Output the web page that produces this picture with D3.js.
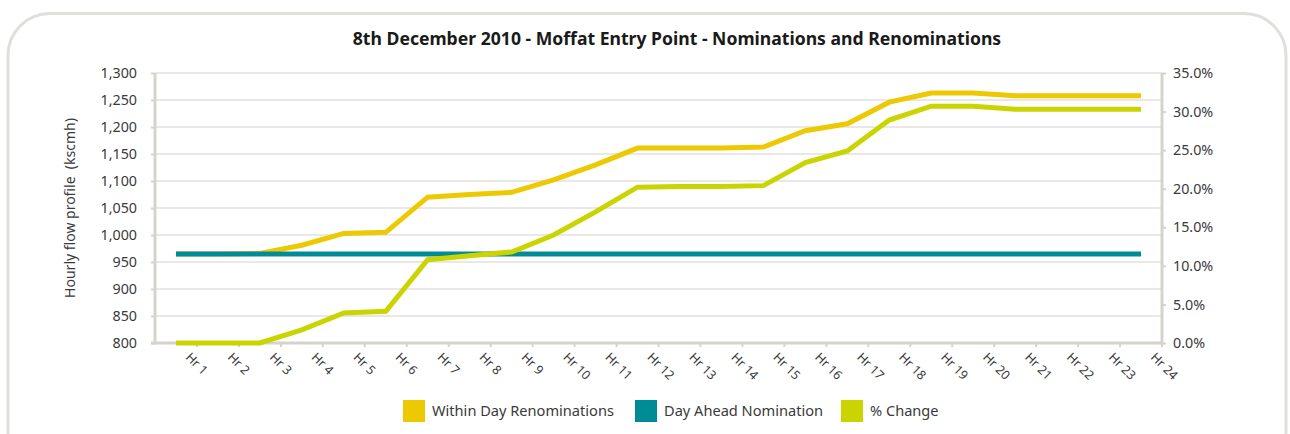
<!DOCTYPE html>
<html>
<head>
<meta charset="utf-8">
<script src="https://cdn.jsdelivr.net/npm/d3@7"></script>
<style>
    body { margin: 0; background: #fff; }
    svg text { font-family: 'Noto Sans', sans-serif; }
</style>
</head>
<body>
<div id="chart-container"></div>
<script>
// chart data
const hours = ['Hr 1', 'Hr 2', 'Hr 3', 'Hr 4', 'Hr 5', 'Hr 6', 'Hr 7', 'Hr 8', 'Hr 9', 'Hr 10', 'Hr 11', 'Hr 12',
    'Hr 13', 'Hr 14', 'Hr 15', 'Hr 16', 'Hr 17', 'Hr 18', 'Hr 19', 'Hr 20', 'Hr 21', 'Hr 22', 'Hr 23', 'Hr 24'];
const withinDay = [965, 965, 966, 981, 1003, 1005, 1070, 1075, 1079, 1102, 1130, 1161,
    1161, 1161, 1163, 1193, 1206, 1246, 1263, 1263, 1258, 1258, 1258, 1258];
const dayAhead = [965, 965, 965, 965, 965, 965, 965, 965, 965, 965, 965, 965,
    965, 965, 965, 965, 965, 965, 965, 965, 965, 965, 965, 965];
const pctChange = [0, 0, 0, 1.7, 3.9, 4.1, 10.8, 11.3, 11.8, 14.0, 17.0, 20.2,
    20.3, 20.3, 20.4, 23.4, 24.9, 28.9, 30.7, 30.7, 30.3, 30.3, 30.3, 30.3];
const leftTicks = [800, 850, 900, 950, 1000, 1050, 1100, 1150, 1200, 1250, 1300];
const rightTicks = [0, 5, 10, 15, 20, 25, 30, 35];
const seriesNames = ['Within Day Renominations', 'Day Ahead Nomination', '% Change'];

const colors = {
    within: '#ecc900',
    dayAhead: '#008c96',
    pct: '#cad400'
};
const axisColor = '#d6d3cc';
const gridColor = '#e3e1dc';
const textColor = '#3a3a3a';

let width = 1290, height = 434;
let margin = { left: 155, right: 1162, top: 73, bottom: 343 };

let svg = d3.select('#chart-container')
    .append('svg')
    .attr('width', width)
    .attr('height', height);

// rounded frame round the whole chart
svg.append('rect')
    .attr('x', 8)
    .attr('y', 13.5)
    .attr('width', 1278)
    .attr('height', 460)
    .attr('rx', 42)
    .attr('fill', 'none')
    .attr('stroke', '#e0dfdb')
    .attr('stroke-width', 3);

svg.append('text')
    .attr('x', 677)
    .attr('y', 45)
    .attr('text-anchor', 'middle')
    .attr('font-size', 17.6)
    .attr('font-weight', 'bold')
    .attr('fill', '#1a1a1a')
    .text('8th December 2010 - Moffat Entry Point - Nominations and Renominations');

let x = d3.scaleBand()
    .domain(hours)
    .range([margin.left, margin.right]);

let yLeft = d3.scaleLinear()
    .domain([800, 1300])
    .range([margin.bottom, margin.top]);

let yRight = d3.scaleLinear()
    .domain([0, 35])
    .range([margin.bottom, margin.top]);

// gridlines
svg.append('g')
    .selectAll('line')
    .data(leftTicks.slice(1))
    .enter()
    .append('line')
    .attr('x1', margin.left)
    .attr('x2', margin.right)
    .attr('y1', d => yLeft(d))
    .attr('y2', d => yLeft(d))
    .attr('stroke', gridColor)
    .attr('stroke-width', 1.5);

// left axis
let leftAxis = svg.append('g')
    .attr('transform', `translate(${margin.left},0)`)
    .call(d3.axisLeft(yLeft).tickValues(leftTicks).tickFormat(d3.format(',')).tickSize(4).tickPadding(14));

// right axis
let rightAxis = svg.append('g')
    .attr('transform', `translate(${margin.right},0)`)
    .call(d3.axisRight(yRight).tickValues(rightTicks).tickFormat(d => d.toFixed(1) + '%').tickSize(4).tickPadding(7));

// bottom axis, ticks at band boundaries
let bottomAxis = svg.append('g')
    .attr('transform', `translate(0,${margin.bottom})`);
bottomAxis.append('line')
    .attr('x1', margin.left - 4)
    .attr('x2', margin.right)
    .attr('stroke', axisColor)
    .attr('stroke-width', 3);
bottomAxis.selectAll('.tk')
    .data(hours)
    .enter()
    .append('line')
    .attr('class', 'tk')
    .attr('x1', d => x(d) + x.bandwidth())
    .attr('x2', d => x(d) + x.bandwidth())
    .attr('y1', 0)
    .attr('y2', 4)
    .attr('stroke', axisColor)
    .attr('stroke-width', 2);
bottomAxis.selectAll('text')
    .data(hours)
    .enter()
    .append('text')
    .attr('transform', d => `translate(${x(d) + x.bandwidth() / 2 + 9},15) rotate(45)`)
    .attr('font-size', 12.5)
    .attr('fill', textColor)
    .text(d => d);

[leftAxis, rightAxis].forEach(g => {
    g.select('.domain').attr('stroke', axisColor).attr('stroke-width', 3);
    g.selectAll('.tick line').attr('stroke', axisColor).attr('stroke-width', 2);
    g.selectAll('.tick text')
        .attr('font-family', "'Noto Sans', sans-serif")
        .attr('font-size', 14.3)
        .attr('fill', textColor);
});
leftAxis.select('.domain').attr('d', `M0,${margin.top}V${margin.bottom + 1.5}`);
rightAxis.select('.domain').attr('d', `M0,${margin.top}V${margin.bottom + 1.5}`);

svg.append('text')
    .attr('transform', `translate(75,${(margin.top + margin.bottom) / 2}) rotate(-90)`)
    .attr('text-anchor', 'middle')
    .attr('font-size', 14)
    .attr('fill', textColor)
    .attr('xml:space', 'preserve')
    .text('Hourly flow profile  (kscmh)');

// lines
const cx = d => x(d) + x.bandwidth() / 2;

let lineLeft = d3.line()
    .x((d, i) => cx(hours[i]))
    .y(d => yLeft(d));

let lineRight = d3.line()
    .x((d, i) => cx(hours[i]))
    .y(d => yRight(d));

svg.append('path')
    .datum(withinDay)
    .attr('d', lineLeft)
    .attr('fill', 'none')
    .attr('stroke', colors.within)
    .attr('stroke-width', 5);

svg.append('path')
    .datum(dayAhead)
    .attr('d', lineLeft)
    .attr('fill', 'none')
    .attr('stroke', colors.dayAhead)
    .attr('stroke-width', 5);

svg.append('path')
    .datum(pctChange)
    .attr('d', lineRight)
    .attr('fill', 'none')
    .attr('stroke', colors.pct)
    .attr('stroke-width', 5);

// legend
const legendX = [403, 635, 841];
const legendColors = [colors.within, colors.dayAhead, colors.pct];
let legend = svg.append('g')
    .selectAll('g')
    .data(seriesNames)
    .enter()
    .append('g')
    .attr('transform', (d, i) => `translate(${legendX[i]},400)`);
legend.append('rect')
    .attr('width', 22)
    .attr('height', 22)
    .attr('fill', (d, i) => legendColors[i]);
legend.append('text')
    .attr('x', 29)
    .attr('y', 16)
    .attr('font-size', 14.6)
    .attr('fill', textColor)
    .text(d => d);
</script>
</body>
</html>
